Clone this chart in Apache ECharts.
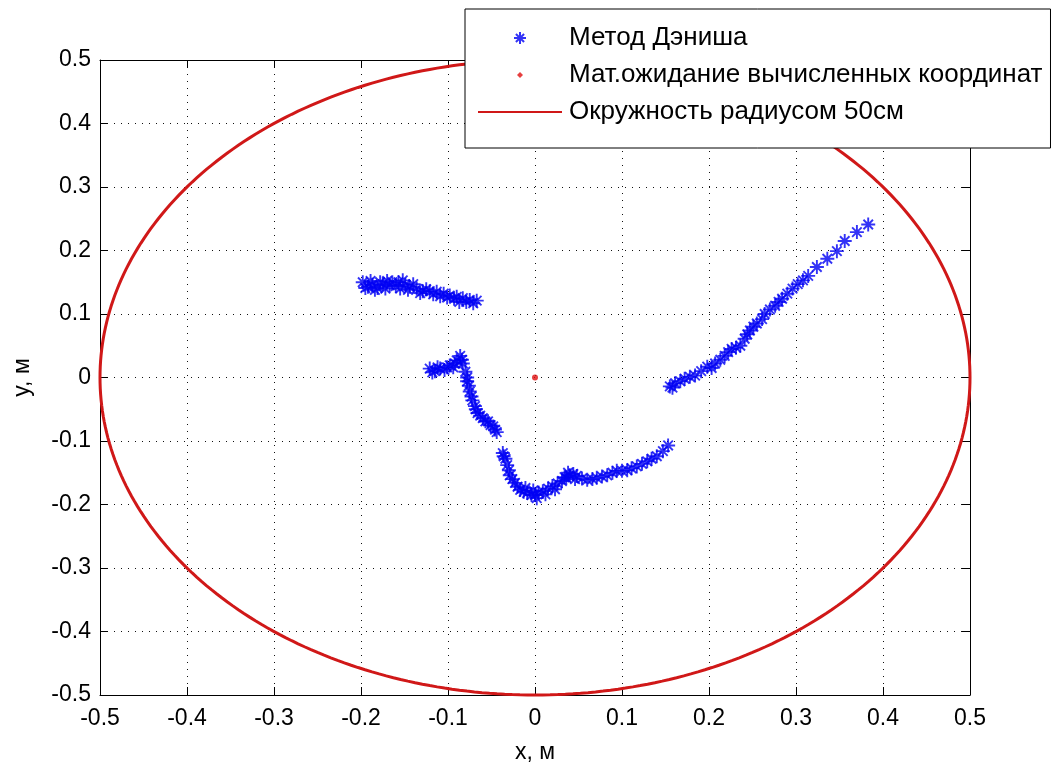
<!DOCTYPE html>
<html>
<head>
<meta charset="utf-8">
<script src="https://cdn.jsdelivr.net/npm/echarts@6/dist/echarts.min.js"></script>
<style>
  html, body { margin: 0; padding: 0; background: #ffffff; }
  #chart { width: 1051px; height: 769px; }
</style>
</head>
<body>
<div id="chart"></div>
<script>
// Estimated positions (x, y in metres) computed by the Dennis method, grouped by track
const trackUpperLeft = [
  [-0.198, 0.150], [-0.195, 0.141], [-0.192, 0.143], [-0.189, 0.152], [-0.187, 0.146],
  [-0.184, 0.138], [-0.181, 0.141], [-0.178, 0.150], [-0.175, 0.147], [-0.172, 0.140],
  [-0.170, 0.152], [-0.167, 0.145], [-0.164, 0.150], [-0.160, 0.144], [-0.157, 0.150],
  [-0.155, 0.140], [-0.152, 0.153], [-0.149, 0.146], [-0.146, 0.138], [-0.144, 0.143],
  [-0.140, 0.147], [-0.136, 0.140], [-0.132, 0.133], [-0.129, 0.136], [-0.125, 0.139],
  [-0.121, 0.136], [-0.117, 0.131], [-0.113, 0.135], [-0.109, 0.128], [-0.105, 0.132],
  [-0.101, 0.126], [-0.098, 0.129], [-0.093, 0.124], [-0.090, 0.127], [-0.087, 0.119],
  [-0.083, 0.125], [-0.079, 0.119], [-0.075, 0.122], [-0.071, 0.117], [-0.067, 0.121]
];
const trackMiddle = [
  [-0.121, 0.014], [-0.118, 0.008], [-0.115, 0.010], [-0.112, 0.016], [-0.109, 0.014],
  [-0.104, 0.012], [-0.101, 0.016], [-0.098, 0.019], [-0.094, 0.016], [-0.092, 0.022],
  [-0.090, 0.027], [-0.086, 0.034], [-0.084, 0.028], [-0.083, 0.022], [-0.080, 0.009],
  [-0.078, 0.000], [-0.078, -0.006], [-0.076, -0.013], [-0.075, -0.022], [-0.073, -0.030],
  [-0.072, -0.036], [-0.069, -0.045], [-0.068, -0.050], [-0.066, -0.056], [-0.063, -0.060],
  [-0.060, -0.064], [-0.057, -0.069], [-0.054, -0.069], [-0.051, -0.075], [-0.048, -0.077],
  [-0.046, -0.082], [-0.044, -0.086]
];
const trackLower = [
  [-0.037, -0.119], [-0.036, -0.124], [-0.034, -0.128], [-0.032, -0.138], [-0.030, -0.146],
  [-0.029, -0.154], [-0.026, -0.160], [-0.023, -0.166], [-0.020, -0.172], [-0.017, -0.177],
  [-0.013, -0.180], [-0.011, -0.174], [-0.009, -0.182], [-0.004, -0.185], [-0.002, -0.178],
  [0.000, -0.185], [0.002, -0.190], [0.004, -0.181], [0.009, -0.179], [0.012, -0.184],
  [0.015, -0.175], [0.020, -0.171], [0.023, -0.176], [0.026, -0.167], [0.031, -0.163],
  [0.034, -0.157], [0.036, -0.158], [0.038, -0.150], [0.040, -0.154], [0.044, -0.152],
  [0.046, -0.160], [0.048, -0.155], [0.054, -0.159], [0.060, -0.161], [0.066, -0.160],
  [0.071, -0.158], [0.077, -0.156], [0.083, -0.154], [0.089, -0.150], [0.094, -0.147],
  [0.100, -0.147], [0.106, -0.146], [0.111, -0.143], [0.117, -0.140], [0.123, -0.136],
  [0.129, -0.132], [0.134, -0.128], [0.140, -0.124], [0.147, -0.116], [0.153, -0.107]
];
const trackRight = [
  [0.155, -0.014], [0.158, -0.016], [0.161, -0.009], [0.167, -0.006], [0.172, -0.002],
  [0.178, 0.001], [0.184, 0.003], [0.191, 0.010], [0.198, 0.017], [0.203, 0.015],
  [0.207, 0.022], [0.213, 0.028], [0.218, 0.034], [0.222, 0.040], [0.226, 0.045],
  [0.231, 0.047], [0.236, 0.050], [0.241, 0.061], [0.244, 0.068], [0.247, 0.074],
  [0.251, 0.080], [0.255, 0.085], [0.261, 0.092], [0.264, 0.100], [0.270, 0.107],
  [0.276, 0.113], [0.280, 0.119], [0.284, 0.124], [0.290, 0.132], [0.296, 0.140],
  [0.302, 0.147], [0.308, 0.153], [0.314, 0.160], [0.324, 0.174], [0.336, 0.187],
  [0.347, 0.199], [0.356, 0.215], [0.370, 0.229], [0.383, 0.241]
];

// Mean of the computed coordinates
const meanPoint = [0.0, 0.0];

// Reference circle radius, metres
const circleRadius = 0.5;

// Axis range and tick step
const axisMin = -0.5;
const axisMax = 0.5;
const tickStep = 0.1;

const seriesNames = [
  'Метод Дэниша',
  'Мат.ожидание вычисленных координат',
  'Окружность радиусом 50см'
];

const dennisPoints = [].concat(trackUpperLeft, trackMiddle, trackLower, trackRight);

// Outline of the circle of the given radius around the origin
const circlePoints = [];
for (let deg = 0; deg <= 360; deg += 1) {
  const a = deg * Math.PI / 180;
  circlePoints.push([circleRadius * Math.cos(a), circleRadius * Math.sin(a)]);
}

const FONT = '"Liberation Sans", Arial, sans-serif';
const BLUE = '#0000f4';
const RED = '#d01818';
const asterisk = 'path://M5 0V10M0 5H10M1.6 1.6L8.4 8.4M8.4 1.6L1.6 8.4';
// small diamond inside a 12x12 frame (corner points only widen the bounding box)
const smallDot = 'path://M0 0L0 0M12 12L12 12M6 3L9 6L6 9L3 6Z';

function mainAxis(name, position, nameGap, labelMargin) {
  return {
    type: 'value', position: position, min: axisMin, max: axisMax, interval: tickStep,
    name: name, nameLocation: 'middle', nameGap: nameGap,
    nameTextStyle: { fontSize: 23, color: '#000', fontFamily: FONT },
    axisLine: { onZero: false, lineStyle: { color: '#000', width: 1 } },
    axisTick: { inside: true, length: 8, lineStyle: { color: '#000', width: 1 } },
    axisLabel: { fontSize: 23, color: '#000', fontFamily: FONT, margin: labelMargin },
    splitLine: { show: true, lineStyle: { color: '#111', width: 1, type: [1, 6] } }
  };
}
function frameAxis(position) {
  return {
    type: 'value', position: position, min: axisMin, max: axisMax, interval: tickStep,
    axisLine: { onZero: false, lineStyle: { color: '#000', width: 1 } },
    axisTick: { inside: true, length: 8, lineStyle: { color: '#000', width: 1 } },
    axisLabel: { show: false },
    splitLine: { show: false }
  };
}

const chart = echarts.init(document.getElementById('chart'), null, { renderer: 'canvas' });
chart.setOption({
  animation: false,
  backgroundColor: '#ffffff',
  grid: { left: 100, top: 60, width: 870, height: 638, containLabel: false },
  xAxis: [mainAxis('x, м', 'bottom', 46, 12), frameAxis('top')],
  yAxis: [mainAxis('y, м', 'left', 66, 9), frameAxis('right')],
  legend: {
    orient: 'vertical', left: 465, top: 9,
    data: [
      { name: seriesNames[0] },
      { name: seriesNames[1], icon: smallDot },
      { name: seriesNames[2], itemStyle: { opacity: 0 } }
    ],
    itemWidth: 84, itemHeight: 12, itemGap: 11,
    padding: [16, 8, 23, 12],
    backgroundColor: '#ffffff', borderColor: '#000', borderWidth: 1,
    selectedMode: false,
    textStyle: { fontSize: 26, color: '#000', fontFamily: FONT, padding: [0, 0, 0, 2] },
    z: 10
  },
  series: [
    {
      name: seriesNames[0], type: 'scatter', xAxisIndex: 0, yAxisIndex: 0,
      data: dennisPoints,
      symbol: asterisk, symbolSize: 14, symbolKeepAspect: true,
      itemStyle: { color: 'rgba(0,0,0,0)', borderColor: BLUE, borderWidth: 1.9 },
      z: 3
    },
    {
      name: seriesNames[1], type: 'scatter', xAxisIndex: 0, yAxisIndex: 0,
      data: [meanPoint],
      symbol: 'circle', symbolSize: 6,
      itemStyle: { color: '#e01010' },
      z: 4
    },
    {
      name: seriesNames[2], type: 'line', xAxisIndex: 0, yAxisIndex: 0,
      data: circlePoints, showSymbol: false, symbol: 'none', symbolSize: 0, clip: false,
      itemStyle: { color: RED },
      lineStyle: { color: RED, width: 3 },
      z: 2
    }
  ]
});
</script>
</body>
</html>
